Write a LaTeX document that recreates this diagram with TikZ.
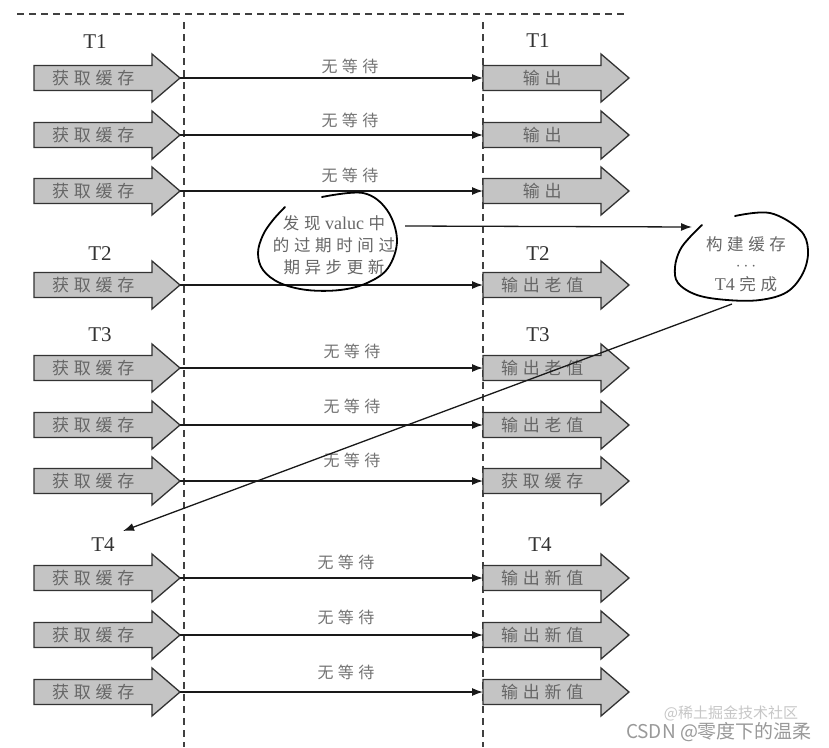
\documentclass[tikz,border=0pt]{standalone}
\usepackage{fontspec}
\setmainfont{Liberation Serif}
\newfontfamily\cjk[LetterSpace=28]{Noto Sans CJK SC}
\newfontfamily\cjkplain{Noto Sans CJK SC}
\usetikzlibrary{arrows.meta,calc}
\definecolor{fillgray}{HTML}{C4C4C4}
\definecolor{edgegray}{HTML}{333333}
\definecolor{txtgray}{HTML}{666666}
\tikzset{
  fatarrow/.style={draw=edgegray, fill=fillgray, line width=1.3pt, line join=miter},
  arrowtext/.style={font=\cjk\fontsize{17}{17}\selectfont, text=txtgray, minimum width=118pt, minimum height=25pt, inner sep=0pt, anchor=west},
  tlabel/.style={font=\fontsize{21}{21}\selectfont, text=black!80, inner sep=0pt},
  waitlabel/.style={font=\cjk\fontsize{16}{16}\selectfont, text=black!55, inner sep=0pt},
  conn/.style={line width=1.3pt, draw=black!90, -{Latex[length=11pt,width=8pt]}},
  sepline/.style={draw=black!75, line width=1.4pt, dash pattern=on 7pt off 5pt},
  vline/.style={draw=black!75, line width=1.1pt, dash pattern=on 7pt off 5pt},
  notecurve/.style={draw=black, line width=1.8pt, line cap=round},
  notetext/.style={font=\fontsize{18}{22}\selectfont, text=txtgray, align=center, inner sep=0pt},
  notecjk/.style={},
  wmone/.style={font=\cjkplain\fontsize{15}{15}\selectfont, text=black!22, inner sep=0pt},
  wmtwo/.style={font=\cjkplain\fontsize{19}{19}\selectfont, text=black!40, inner sep=0pt}
}
\newcommand\notefont{\cjk\fontsize{16.5}{22}\selectfont}
% name, x-left, y-center, text
\newcommand\fatarr[4]{%
  \draw[fatarrow] (#2,#3-12.5) -- (#2+118,#3-12.5) -- (#2+118,#3-24) -- (#2+146,#3)
     -- (#2+118,#3+24) -- (#2+118,#3+12.5) -- (#2,#3+12.5) -- cycle;
  \node[arrowtext] (#1) at (#2,#3) {#4};
  \coordinate (#1tip) at (#2+146,#3);
}
\begin{document}
\begin{tikzpicture}[x=1pt,y=-1pt]
\useasboundingbox[fill=white] (0,0) rectangle (829,747);
% separators
\draw[sepline] (17,14) -- (628,14);
\draw[vline] (184,22) -- (184,747);
\draw[vline] (483,22) -- (483,747);

% left arrows
\fatarr{L1}{34}{78}{获取缓存}
\fatarr{L2}{34}{135}{获取缓存}
\fatarr{L3}{34}{191}{获取缓存}
\fatarr{L4}{34}{285}{获取缓存}
\fatarr{L5}{34}{368}{获取缓存}
\fatarr{L6}{34}{425}{获取缓存}
\fatarr{L7}{34}{481}{获取缓存}
\fatarr{L8}{34}{578}{获取缓存}
\fatarr{L9}{34}{635}{获取缓存}
\fatarr{L10}{34}{692}{获取缓存}

% right arrows
\fatarr{R1}{483}{78}{输出}
\fatarr{R2}{483}{135}{输出}
\fatarr{R3}{483}{191}{输出}
\fatarr{R4}{483}{285}{输出老值}
\fatarr{R5}{483}{368}{输出老值}
\fatarr{R6}{483}{425}{输出老值}
\fatarr{R7}{483}{481}{获取缓存}
\fatarr{R8}{483}{578}{输出新值}
\fatarr{R9}{483}{635}{输出新值}
\fatarr{R10}{483}{692}{输出新值}

% thread labels
\node[tlabel] (tl1) at (95,42) {T1};
\node[tlabel] (tl2) at (100,254) {T2};
\node[tlabel] (tl3) at (100,335) {T3};
\node[tlabel] (tl4) at (103,545) {T4};
\node[tlabel] (tr1) at (538,41) {T1};
\node[tlabel] (tr2) at (538,254) {T2};
\node[tlabel] (tr3) at (538,335) {T3};
\node[tlabel] (tr4) at (540,545) {T4};

% wait labels
\node[waitlabel] (w1) at (350,66) {无等待};
\node[waitlabel] (w2) at (350,120) {无等待};
\node[waitlabel] (w3) at (350,175) {无等待};
\node[waitlabel] (w5) at (352,351) {无等待};
\node[waitlabel] (w6) at (352,406) {无等待};
\node[waitlabel] (w7) at (352,460) {无等待};
\node[waitlabel] (w8) at (346,562) {无等待};
\node[waitlabel] (w9) at (346,617) {无等待};
\node[waitlabel] (w10) at (346,672) {无等待};

% connectors
\foreach \i in {1,...,10} {\draw[conn] (L\i tip) -- (R\i.west);}

% note 1
\draw[notecurve] plot[smooth, tension=0.6] coordinates {(322,197) (363,193) (387,210) (397,240) (388,268) (367,283) (340,290) (307,290) (280,283) (263,270) (258,253) (263,235) (273,220) (285,207)};
\node[notetext] (note1) at (334,245) {{\notefont 发现}~valuc~{\notefont 中}\\{\notefont 的过期时间过}\\{\notefont 期异步更新}};

% note 2
\draw[notecurve] plot[smooth, tension=0.6] coordinates {(735,216) (770,213) (800,230) (808,250) (803,273) (787,292) (760,300) (727,300) (697,295) (678,283) (675,267) (680,250) (690,237) (702,225)};
\node[notetext] (note2) at (746,264) {{\notefont 构建缓存}\\[-2pt]$\cdots$\\[-2pt]T4~{\notefont 完成}};

\coordinate (n1out) at (405,226);
\coordinate (n2in) at (692,227);
\draw[conn] (n1out) -- (n2in);
\coordinate (n2tail) at (732,304);
\coordinate (t4in) at (123,531);
\draw[conn] (n2tail) -- (t4in);

% watermark
\node[wmone] (wm1) at (731,713) {@稀土掘金技术社区};
\node[wmtwo] (wm2) at (719,732) {CSDN @零度下的温柔};
\end{tikzpicture}
\end{document}
